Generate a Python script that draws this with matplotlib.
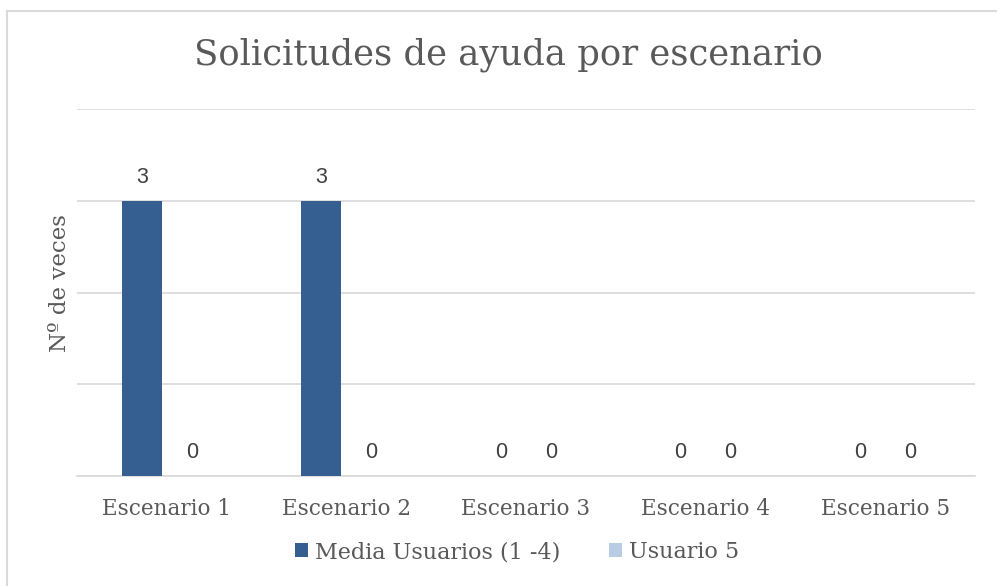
import matplotlib
matplotlib.use("Agg")
import matplotlib.pyplot as plt
import numpy as np
from matplotlib.patches import Rectangle

# chart data
escenarios = ["Escenario 1", "Escenario 2", "Escenario 3", "Escenario 4", "Escenario 5"]
media_usuarios = [3, 3, 0, 0, 0]
usuario_5 = [0, 0, 0, 0, 0]
series_names = ["Media Usuarios (1 -4)", "Usuario 5"]

dark_blue = "#365F91"
light_blue = "#B8CCE4"
txt = "#595959"
grid_c = "#D9D9D9"
serif = "DejaVu Serif"

fig = plt.figure(figsize=(9.97, 5.86), dpi=100)
W, H = 997, 586
# plot area in pixels: x 77..975, y 109..476
ax = fig.add_axes([77 / W, 1 - 476 / H, (975 - 77) / W, (476 - 109) / H])

x = np.arange(len(escenarios))
bw = 40 / 179.6
off = 25 / 179.6
b1 = ax.bar(x - off, media_usuarios, bw, color=dark_blue, zorder=3)
b2 = ax.bar(x + off, usuario_5, bw, color=light_blue, zorder=3)

for bars, vals in ((b1, media_usuarios), (b2, usuario_5)):
    for r, v in zip(bars, vals):
        ax.text(r.get_x() + r.get_width() / 2, v + 0.14, str(v), ha="center", va="bottom",
                fontsize=15.5, color="#404040", family="Liberation Sans")

ax.set_xlim(-0.5, len(escenarios) - 0.5)
ax.set_ylim(0, 4)
ax.set_yticks([0, 1, 2, 3, 4])
ax.yaxis.grid(True, color=grid_c, linewidth=1.2, zorder=0)
ax.tick_params(axis="y", left=False, labelleft=False)
ax.tick_params(axis="x", bottom=False, labelsize=15.5, labelcolor=txt, pad=12)
ax.set_xticks(x)
ax.set_xticklabels(escenarios, family=serif)
for s in ("top", "right", "left"):
    ax.spines[s].set_visible(False)
ax.spines["bottom"].set_color(grid_c)
ax.spines["bottom"].set_linewidth(1.2)

fig.text(60 / W, 1 - 283 / H, "Nº de veces", rotation=90, ha="center", va="center",
         fontsize=16.5, color=txt, family=serif)
fig.text(508 / W, 1 - 55 / H, "Solicitudes de ayuda por escenario", ha="center", va="center",
         fontsize=25.5, color=txt, family=serif)

leg = fig.legend([b1, b2], series_names, loc="center", bbox_to_anchor=(517 / W, 1 - 552 / H),
                 ncol=2, frameon=False, prop={"family": serif, "size": 16},
                 handlelength=0.6, handleheight=0.6, handletextpad=0.3, columnspacing=2.2)
for t in leg.get_texts():
    t.set_color(txt)

fig.patches.append(Rectangle((7 / W, -0.01), 1.0, 1 - 11 / H + 0.01, transform=fig.transFigure,
                             fill=False, edgecolor="#D9D9D9", linewidth=1.5))

fig.savefig("out.png", dpi=100)
